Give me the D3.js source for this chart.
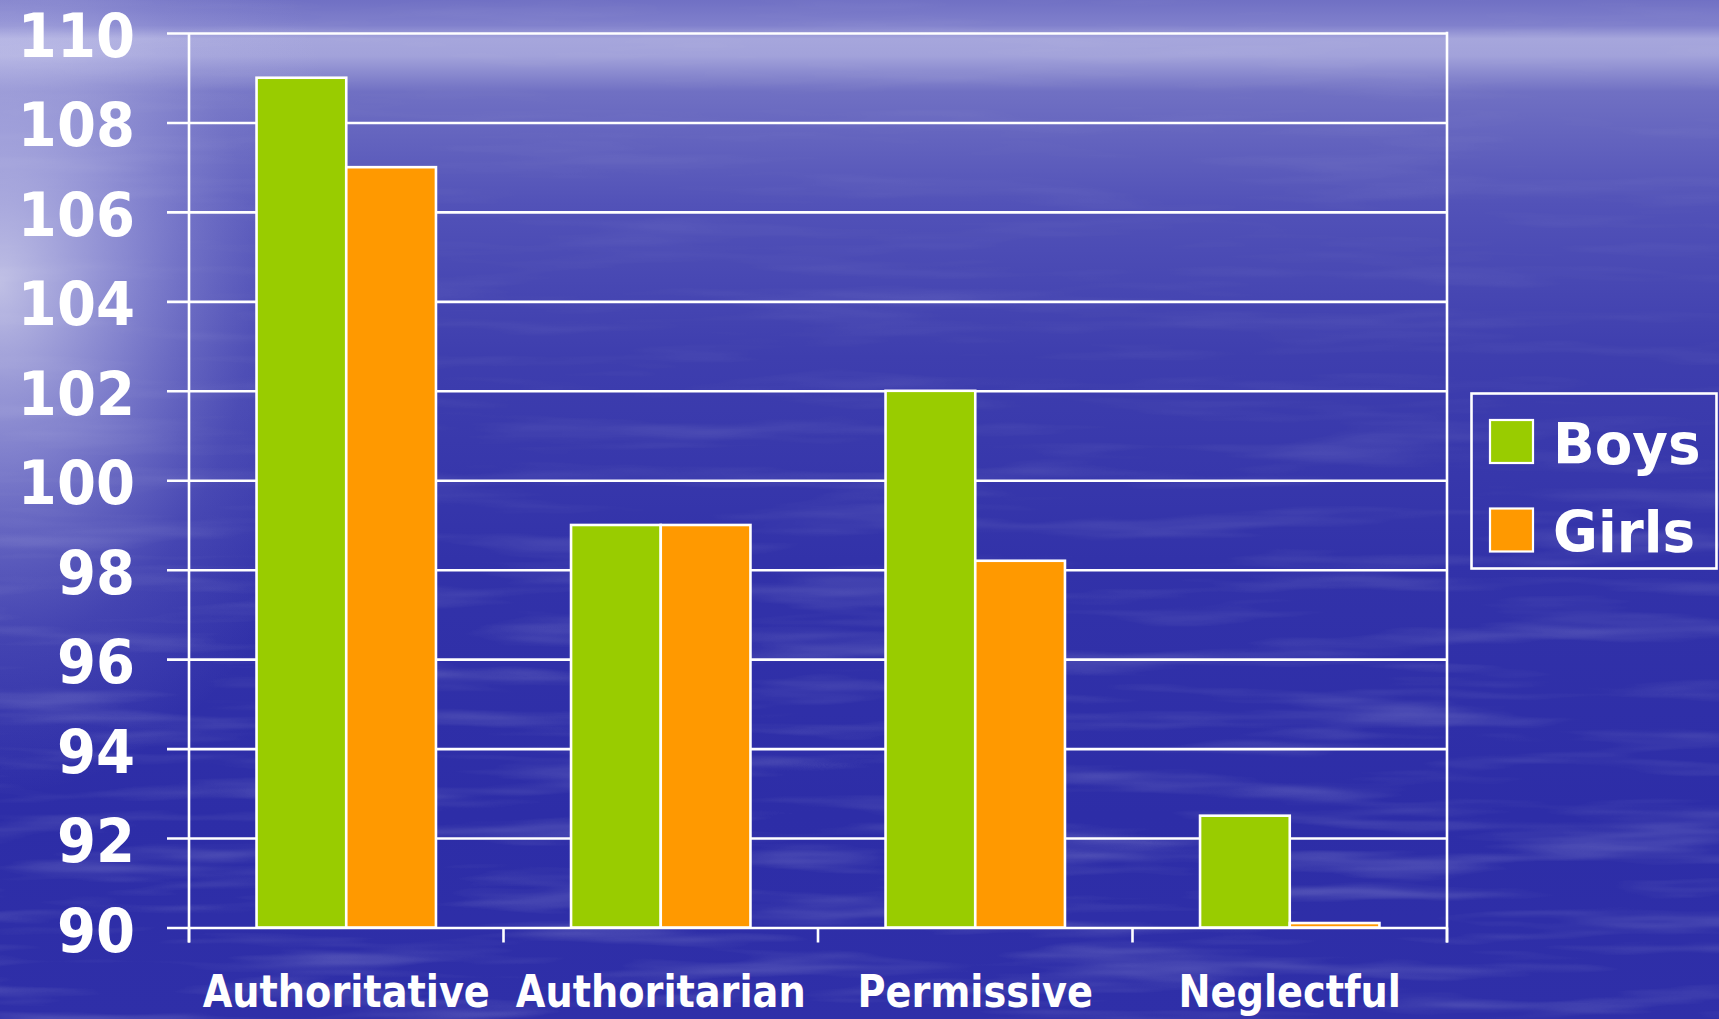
<!DOCTYPE html>
<html>
<head>
<meta charset="utf-8">
<script src="https://cdn.jsdelivr.net/npm/d3@7"></script>
<style>
  html, body { margin: 0; padding: 0; background: #2c2ca6; overflow: hidden; }
  svg { display: block; }
  text { font-family: "DejaVu Sans", Verdana, sans-serif; font-weight: bold; fill: #ffffff; }
</style>
</head>
<body>
<svg id="chart" width="1719" height="1019"></svg>
<script>
// Mean scores by parenting style, split by gender
const categories = ["Authoritative", "Authoritarian", "Permissive", "Neglectful"];
const seriesNames = ["Boys", "Girls"];
const boys  = [109, 99, 102, 92.5];
const girls = [107, 99, 98.2, 90.1];
const yTicks = [90, 92, 94, 96, 98, 100, 102, 104, 106, 108, 110];
const seriesColors = ["#99cc00", "#ff9900"];

const W = 1719, H = 1019;
const plot = { left: 189, right: 1447, top: 33, bottom: 927.5 };

const svg = d3.select("#chart");
const defs = svg.append("defs");

// ---- ocean backdrop ----
const sky = defs.append("linearGradient").attr("id", "sea").attr("x1", 0).attr("y1", 0).attr("x2", 0).attr("y2", 1);
[[0, "#7070c4"], [0.025, "#8080cc"], [0.038, "#a6a6dc"], [0.055, "#a2a2da"], [0.09, "#7070c3"],
 [0.2, "#5252b8"], [0.35, "#3e3eae"], [0.55, "#3232a9"], [0.8, "#2d2da7"], [1, "#2f2fa8"]]
  .forEach(([o, c]) => sky.append("stop").attr("offset", o).attr("stop-color", c));

const glow = defs.append("radialGradient").attr("id", "glow")
  .attr("cx", 0).attr("cy", 0.28).attr("r", 0.5)
  .attr("gradientTransform", "translate(0,0.28) scale(0.42,1) translate(0,-0.28)");
[[0, "#ffffff", 0.65], [0.35, "#eeeeff", 0.38], [0.7, "#ccccf0", 0.12], [1, "#ccccf0", 0]]
  .forEach(([o, c, a]) => glow.append("stop").attr("offset", o).attr("stop-color", c).attr("stop-opacity", a));

// soft horizontal ripples on the water
const ripple = defs.append("filter").attr("id", "ripple")
  .attr("x", 0).attr("y", 0).attr("width", 1).attr("height", 1);
ripple.append("feTurbulence").attr("type", "fractalNoise")
  .attr("baseFrequency", "0.004 0.045").attr("numOctaves", 3).attr("seed", 7).attr("result", "n");
ripple.append("feColorMatrix").attr("in", "n").attr("type", "matrix")
  .attr("values", "0 0 0 0 1  0 0 0 0 1  0 0 0 0 1  2.0 0 0 0 -0.95");

// ripples grow stronger toward the foreground
const fade = defs.append("linearGradient").attr("id", "fade").attr("x1", 0).attr("y1", 0).attr("x2", 0).attr("y2", 1);
[[0, 0.25], [0.35, 0.35], [0.7, 0.8], [1, 1]]
  .forEach(([o, a]) => fade.append("stop").attr("offset", o).attr("stop-color", "#fff").attr("stop-opacity", a));
defs.append("mask").attr("id", "fadeMask")
  .append("rect").attr("width", W).attr("height", H).attr("fill", "url(#fade)");

svg.append("rect").attr("width", W).attr("height", H).attr("fill", "url(#sea)");
svg.append("g").attr("mask", "url(#fadeMask)")
  .append("rect").attr("width", W).attr("height", H).attr("filter", "url(#ripple)").attr("opacity", 0.24);
svg.append("rect").attr("width", W).attr("height", H).attr("fill", "url(#glow)");

// ---- scales ----
const x0 = d3.scaleBand().domain(categories).range([plot.left, plot.right]).padding(0);
const x1 = d3.scaleBand().domain(seriesNames).range([0, x0.bandwidth()])
  .paddingInner(0).paddingOuter(0.753);
const y = d3.scaleLinear().domain([90, 110]).range([plot.bottom, plot.top]);

const lineW = 2.6;

// ---- gridlines and left ticks ----
const grid = svg.append("g").attr("transform", `translate(167,0)`)
  .call(d3.axisLeft(y).tickValues(yTicks).tickSize(-(plot.right - 167)).tickFormat(""));
grid.select(".domain").remove();
grid.selectAll("line").attr("stroke", "#ffffff").attr("stroke-width", lineW);

// ---- category axis (ticks hang below the baseline) ----
const catTicks = categories.map(c => x0(c)).concat([plot.right]);
svg.append("g").selectAll("line").data(catTicks).join("line")
  .attr("x1", d => d).attr("x2", d => d)
  .attr("y1", plot.bottom).attr("y2", plot.bottom + 15)
  .attr("stroke", "#ffffff").attr("stroke-width", lineW);

// plot frame: value axis on the left and closing edge on the right
svg.append("line").attr("x1", plot.left).attr("x2", plot.left)
  .attr("y1", plot.top).attr("y2", plot.bottom + 15)
  .attr("stroke", "#ffffff").attr("stroke-width", lineW);
svg.append("line").attr("x1", plot.right).attr("x2", plot.right)
  .attr("y1", plot.top - lineW / 2).attr("y2", plot.bottom + 15)
  .attr("stroke", "#ffffff").attr("stroke-width", lineW);

// ---- bars ----
const rows = categories.map((c, i) => ({ cat: c, values: [boys[i], girls[i]] }));
svg.append("g").selectAll("g").data(rows).join("g")
  .attr("transform", d => `translate(${x0(d.cat)},0)`)
  .selectAll("rect").data(d => d.values.map((v, j) => ({ s: seriesNames[j], v, j })))
  .join("rect")
  .attr("x", d => x1(d.s))
  .attr("width", x1.bandwidth())
  .attr("y", d => y(d.v))
  .attr("height", d => y(90) - y(d.v))
  .attr("fill", d => seriesColors[d.j])
  .attr("stroke", "#ffffff").attr("stroke-width", lineW);

// ---- value labels (narrow bold face) ----
svg.append("g").selectAll("text").data(yTicks).join("text")
  .attr("text-anchor", "end")
  .attr("font-size", 61)
  .attr("transform", d => `translate(135,${y(d) + 24}) scale(0.92,1)`)
  .text(d => d);

// ---- category labels ----
svg.append("g").selectAll("text").data(categories).join("text")
  .attr("text-anchor", "middle")
  .attr("font-size", 44)
  .attr("transform", d => `translate(${x0(d) + x0.bandwidth() / 2},1007) scale(0.87,1)`)
  .text(d => d);

// ---- legend ----
const legend = svg.append("g");
legend.append("rect").attr("x", 1471.5).attr("y", 393.5).attr("width", 245).attr("height", 175)
  .attr("fill", "none").attr("stroke", "#ffffff").attr("stroke-width", lineW);
const item = legend.selectAll("g").data(seriesNames).join("g")
  .attr("transform", (d, i) => `translate(1490,${420 + i * 88.5})`);
item.append("rect").attr("width", 43).attr("height", 43)
  .attr("fill", (d, i) => seriesColors[i]).attr("stroke", "#ffffff").attr("stroke-width", 2.2);
item.append("text").attr("font-size", 57)
  .attr("transform", "translate(63,43.5) scale(0.96,1)")
  .text(d => d);
</script>
</body>
</html>
